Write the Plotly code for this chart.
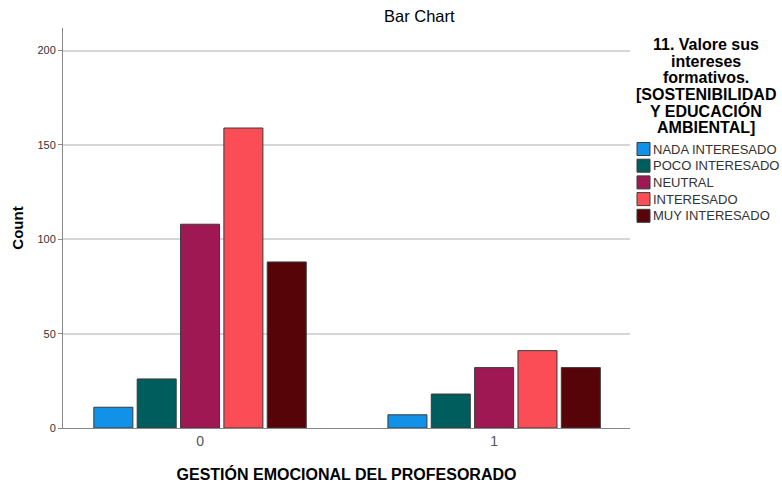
import plotly.graph_objects as go

categories = ["0", "1"]
series_names = ["NADA INTERESADO", "POCO INTERESADO", "NEUTRAL", "INTERESADO", "MUY INTERESADO"]
series_values = [
    [11, 7],
    [26, 18],
    [108, 32],
    [159, 41],
    [88, 32],
]
colors = ["#1192e8", "#005d5d", "#9f1853", "#fa4d56", "#570408"]
y_ticks = [0, 50, 100, 150, 200]
legend_title_lines = ["11. Valore sus", "intereses", "formativos.", "[SOSTENIBILIDAD", "Y EDUCACIÓN", "AMBIENTAL]"]

W, H = 782, 487
L, R, T, B = 63, 630, 28, 428  # plot area in px

FONT = "Liberation Sans, Arial, sans-serif"

fig = go.Figure()
for name, vals, col in zip(series_names, series_values, colors):
    fig.add_trace(go.Bar(
        x=categories, y=vals, name=name,
        marker=dict(color=col, line=dict(color="#3a3a3a", width=1)),
        showlegend=False,
    ))

def px_x(p):
    return (p - L) / (R - L)

def px_y(p):
    return (B - p) / (B - T)

annotations = [
    dict(text="Bar Chart", xref="paper", yref="paper", x=px_x(419), y=px_y(16),
         xanchor="center", yanchor="middle", showarrow=False,
         font=dict(family=FONT, size=16.5, color="#000000")),
]
for i, line in enumerate(legend_title_lines):
    annotations.append(dict(text="<b>" + line + "</b>", xref="paper", yref="paper",
                            x=px_x(706), y=px_y(45 + i * 16.4),
                            xanchor="center", yanchor="middle", showarrow=False,
                            font=dict(family=FONT, size=16, color="#000000")))
shapes = []
y0 = 149
step = 16.7
for i, (name, col) in enumerate(zip(series_names, colors)):
    cy = y0 + i * step
    shapes.append(dict(type="rect", xref="paper", yref="paper",
                       x0=px_x(637), x1=px_x(650), y0=px_y(cy - 6.5), y1=px_y(cy + 6.5),
                       fillcolor=col, line=dict(color="#3a3a3a", width=1)))
    annotations.append(dict(text=name, xref="paper", yref="paper", x=px_x(651), y=px_y(cy),
                            xanchor="left", yanchor="middle", showarrow=False,
                            font=dict(family=FONT, size=13, color="#333333")))

fig.update_layout(
    width=W, height=H,
    margin=dict(l=L, r=W - R, t=T, b=H - B, pad=0, autoexpand=False),
    paper_bgcolor="white", plot_bgcolor="white",
    barmode="group", bargap=0.263, bargroupgap=0.10,
    font=dict(family=FONT, color="#333333"),
    annotations=annotations, shapes=shapes,
    xaxis=dict(
        type="category", range=[-0.466, 1.462], automargin=False,
        showline=True, linecolor="#888888", linewidth=1,
        showgrid=False, ticks="", tickfont=dict(size=14, color="#555555"),
        title=dict(text="<b>GESTIÓN EMOCIONAL DEL PROFESORADO</b>",
                   font=dict(size=16, color="#000000"), standoff=21),
    ),
    yaxis=dict(
        range=[0, 212], tickvals=y_ticks, automargin=False,
        showline=True, linecolor="#888888", linewidth=1,
        showgrid=True, gridcolor="#d6d6d6", gridwidth=1.5,
        ticks="outside", ticklen=4, tickcolor="#888888",
        tickfont=dict(size=11, color="#333333"), zeroline=False,
        title=dict(text="<b>Count</b>", font=dict(size=15, color="#000000"), standoff=10),
    ),
)

fig.write_html("out.html", config={"displayModeBar": False},
               post_script="document.body.style.margin='0';document.body.style.overflow='hidden';")
